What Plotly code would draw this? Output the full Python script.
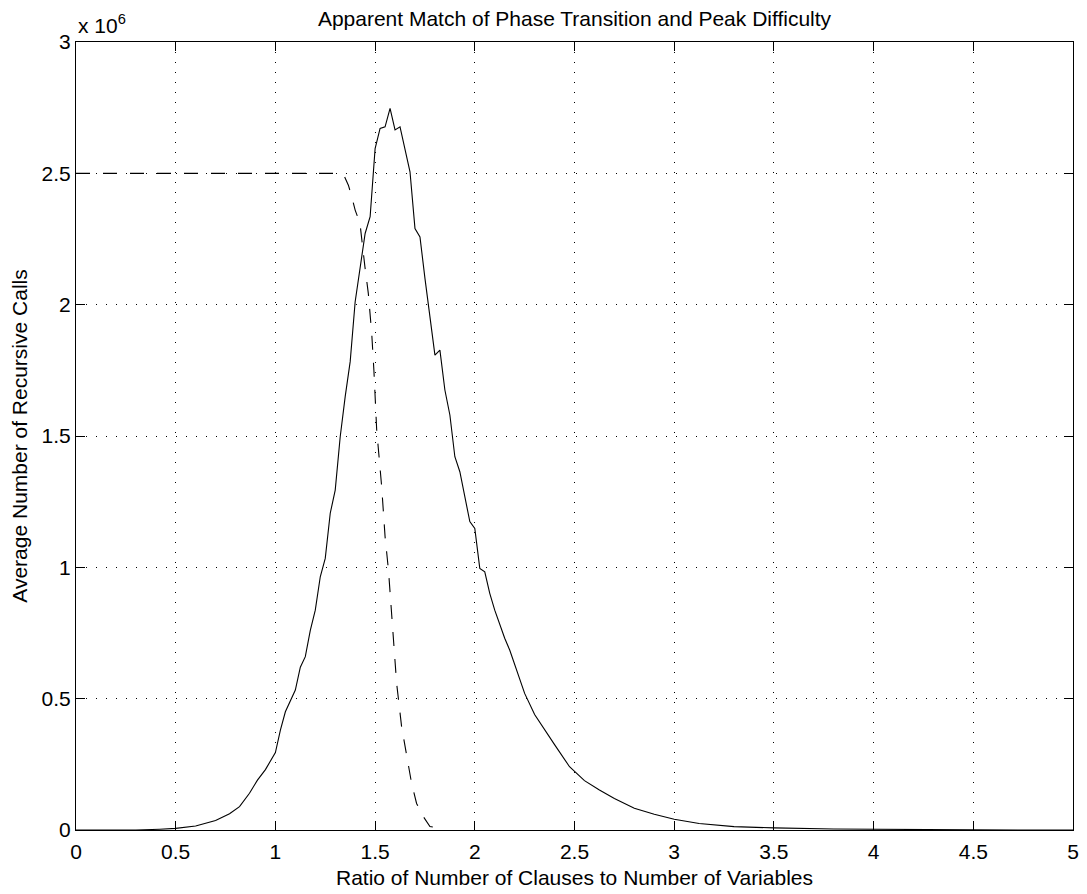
import plotly.graph_objects as go

# Ratio of clauses to variables vs average recursive calls (in units of 1e6)
calls_x = [0.0, 0.3, 0.42, 0.5, 0.6, 0.7, 0.77, 0.82, 0.87, 0.91, 0.95, 1.0, 1.025, 1.05,
           1.1, 1.125, 1.15, 1.175, 1.2, 1.225, 1.25, 1.275, 1.3, 1.325, 1.35, 1.375,
           1.4, 1.425, 1.45, 1.475, 1.5, 1.525, 1.55, 1.575, 1.6, 1.625, 1.65, 1.675,
           1.7, 1.725, 1.75, 1.775, 1.8, 1.825, 1.85, 1.875, 1.9, 1.925, 1.95, 1.975,
           2.0, 2.025, 2.05, 2.075, 2.1, 2.125, 2.15, 2.175, 2.2, 2.25, 2.3, 2.35, 2.4,
           2.475, 2.55, 2.625, 2.7, 2.8, 2.9, 3.0, 3.125, 3.3, 3.5, 3.8, 4.05, 4.5, 5.0]
calls_y = [0.0, 0.0, 0.003, 0.006, 0.015, 0.036, 0.062, 0.089, 0.14, 0.19, 0.23, 0.295, 0.38, 0.45,
           0.533, 0.62, 0.66, 0.76, 0.837, 0.964, 1.034, 1.206, 1.294, 1.497, 1.65, 1.783,
           2.011, 2.15, 2.271, 2.335, 2.594, 2.671, 2.677, 2.747, 2.665, 2.677, 2.59, 2.506,
           2.29, 2.258, 2.1, 1.95, 1.808, 1.827, 1.675, 1.58, 1.421, 1.364, 1.269, 1.174,
           1.148, 0.996, 0.983, 0.901, 0.837, 0.78, 0.73, 0.685, 0.63, 0.52, 0.44, 0.38, 0.325,
           0.241, 0.188, 0.152, 0.12, 0.083, 0.06, 0.041, 0.025, 0.013, 0.008, 0.004, 0.002, 0.0005, 0.0]

# Scaled fraction of satisfiable instances (phase transition curve)
sat_x = [0.0, 1.32, 1.345, 1.366, 1.383, 1.4, 1.424, 1.433, 1.449, 1.466, 1.483, 1.494,
         1.508, 1.533, 1.55, 1.567, 1.583, 1.608, 1.633, 1.658, 1.683, 1.708, 1.742, 1.775, 1.8]
sat_y = [2.5, 2.5, 2.49, 2.455, 2.411, 2.36, 2.31, 2.258, 2.144, 2.043, 1.891, 1.75,
         1.523, 1.307, 1.117, 0.99, 0.825, 0.558, 0.393, 0.279, 0.178, 0.101, 0.051, 0.013, 0.01]

x_ticks = [0, 0.5, 1, 1.5, 2, 2.5, 3, 3.5, 4, 4.5, 5]
y_ticks = [0, 0.5, 1, 1.5, 2, 2.5, 3]

FONT = "Liberation Sans, Arial, Helvetica, sans-serif"
FS = 21

fig = go.Figure()
fig.add_trace(go.Scatter(x=calls_x, y=calls_y, mode="lines",
                         line=dict(color="black", width=1.1), showlegend=False))
fig.add_trace(go.Scatter(x=sat_x, y=sat_y, mode="lines",
                         line=dict(color="black", width=1.1, dash="14px,13px"), showlegend=False))

axis_common = dict(
    showline=True, linecolor="black", linewidth=1, mirror="ticks",
    ticks="inside", ticklen=9, tickwidth=1, tickcolor="black",
    showgrid=True, gridcolor="black", gridwidth=1, griddash="1px,9px",
    zeroline=False, automargin=False,
    tickfont=dict(family=FONT, size=FS, color="black"),
)

fig.update_layout(
    width=1087, height=894,
    margin=dict(l=76, r=14, t=42, b=64),
    paper_bgcolor="white", plot_bgcolor="white",
    font=dict(family=FONT, color="black"),
    title=dict(text="Apparent Match of Phase Transition and Peak Difficulty",
               x=0.5, xref="paper", xanchor="center",
               y=1 - 19 / 894, yref="container", yanchor="middle",
               font=dict(family=FONT, size=FS, color="black")),
    xaxis=dict(range=[0, 5], tickvals=x_ticks, ticklabelstandoff=3,
               title=dict(text="Ratio of Number of Clauses to Number of Variables",
                          font=dict(family=FONT, size=FS, color="black"), standoff=8),
               **axis_common),
    yaxis=dict(range=[0, 3], tickvals=y_ticks,
               title=dict(text="Average Number of Recursive Calls",
                          font=dict(family=FONT, size=FS, color="black"), standoff=8),
               **axis_common),
    annotations=[dict(text="x 10<sup>6</sup>", xref="paper", yref="paper",
                      x=0, y=1, xanchor="left", yanchor="bottom", yshift=3,
                      showarrow=False, font=dict(family=FONT, size=FS, color="black"))],
)

fig.write_html("out.html")
